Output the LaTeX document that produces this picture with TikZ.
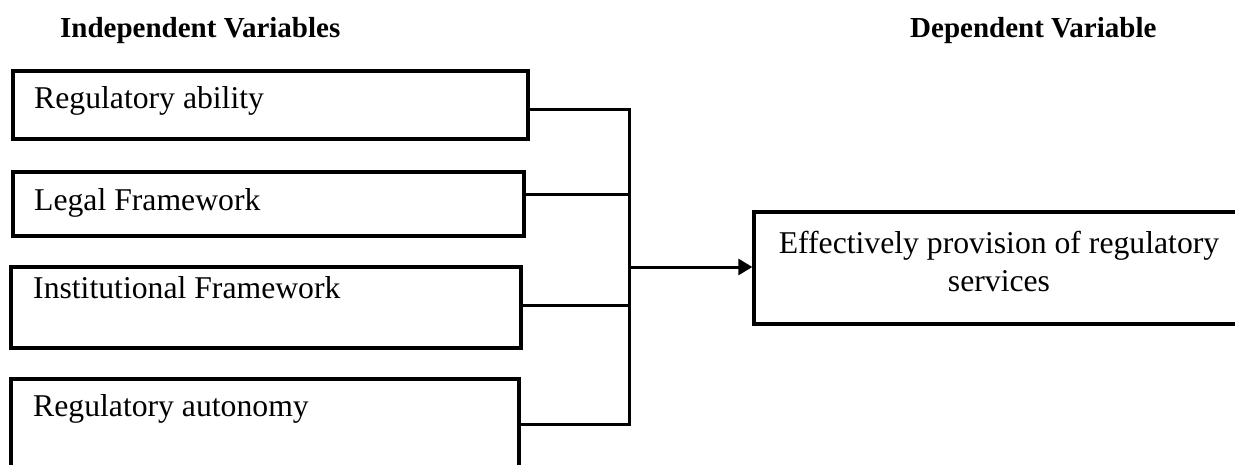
\documentclass[tikz,border=0pt]{standalone}
\usepackage{fontspec}
\setmainfont{Liberation Serif}
\usetikzlibrary{arrows.meta}
\begin{document}
\begin{tikzpicture}[x=1pt,y=-1pt,
  varbox/.style={draw, line width=3.3pt, inner sep=0pt},
  link/.style={line width=3pt, line join=miter},
  body/.style={font=\fontsize{31.7}{38}\selectfont, inner sep=0pt, anchor=base west},
  bodyc/.style={font=\fontsize{31.7}{38}\selectfont, inner sep=0pt, anchor=base},
  head/.style={font=\bfseries\fontsize{29}{34}\selectfont, inner sep=0pt, anchor=base west}]
  % page area
  \clip (0,0) rectangle (1235,464);
  \fill[white] (0,0) rectangle (1235,464);

  % column headings
  \node[head] (hind) at (60,37) {Independent Variables};
  \node[head] (hdep) at (910,37) {Dependent Variable};

  % independent variable boxes
  \node[varbox, minimum width=515pt, minimum height=68pt]  (b1) at (270.5,105)   {};
  \node[varbox, minimum width=511pt, minimum height=64pt]  (b2) at (268.5,204)   {};
  \node[varbox, minimum width=510pt, minimum height=81pt]  (b3) at (266,307.5)   {};
  \node[varbox, minimum width=508pt, minimum height=121pt] (b4) at (265,439.5)   {};

  \node[body] (t1) at (34,108) {Regulatory ability};
  \node[body] (t2) at (34,210) {Legal Framework};
  \node[body] (t3) at (33,298) {Institutional Framework};
  \node[body] (t4) at (33,416) {Regulatory autonomy};

  % dependent variable box
  \node[varbox, minimum width=506pt, minimum height=112pt] (b5) at (1007,268) {};
  \node[bodyc] (e1) at (999,253) {Effectively provision of regulatory};
  \node[bodyc] (e2) at (999,291) {services};

  % junction points on the collecting bar
  \coordinate (j1) at (629,109);
  \coordinate (j2) at (629,194);
  \coordinate (j3) at (629,305);
  \coordinate (j4) at (629,424);
  \coordinate (jm) at (629,267);

  % connectors
  \draw[link] (b1.east |- j1) -- (j1) -- (j4) -- (b4.east |- j4);
  \draw[link] (b2.east |- j2) -- (j2);
  \draw[link] (b3.east |- j3) -- (j3);
  \draw[link, -{Triangle[length=14pt,width=16pt]}] (jm) -- (b5.west |- jm);
\end{tikzpicture}
\end{document}
